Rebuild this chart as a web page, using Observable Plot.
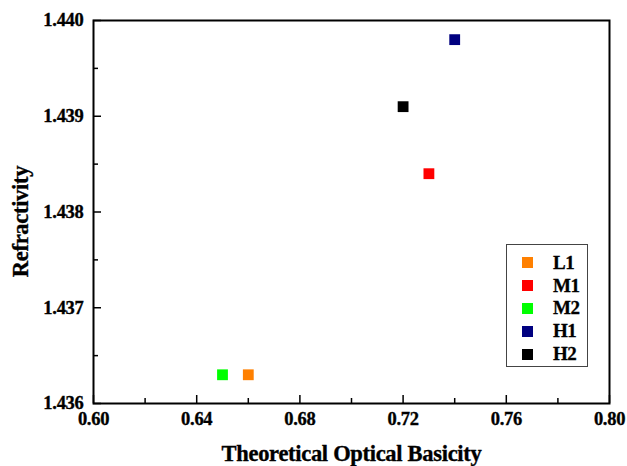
<!DOCTYPE html>
<html>
<head>
<meta charset="utf-8">
<script src="https://cdn.jsdelivr.net/npm/d3@7"></script>
<script src="https://cdn.jsdelivr.net/npm/@observablehq/plot@0.6"></script>
<style>
  body { margin: 0; background: #fff; }
  #wrap { position: relative; width: 627px; height: 466px; }
  #legend {
    position: absolute; left: 506px; top: 244px; width: 82px; height: 123px;
    border: 1px solid #444; box-sizing: border-box; background: #fff;
    font-family: "Liberation Serif", "Times New Roman", serif; font-weight: bold; font-size: 19px;
    padding-top: 6.5px; letter-spacing: -0.5px;
    -webkit-text-stroke: 0.3px #000;
  }
  .row { display: flex; align-items: center; height: 22.8px; }
  .sw { width: 11px; height: 11px; margin-left: 14.5px; margin-right: 20.5px; flex: none; }
</style>
</head>
<body>
<div id="wrap"></div>
<script>
const samples = ["L1", "M1", "M2", "H1", "H2"];
const basicity = [0.66, 0.73, 0.65, 0.74, 0.72];
const refractivity = [1.4363, 1.4384, 1.4363, 1.4398, 1.4391];
const colors = ["#FF8000", "#FF0000", "#00FF00", "#000080", "#000000"];
const xTicks = [0.60, 0.64, 0.68, 0.72, 0.76, 0.80];
const xMinor = [0.62, 0.66, 0.70, 0.74, 0.78];
const yTicks = [1.436, 1.437, 1.438, 1.439, 1.440];
const yMinor = [1.4365, 1.4375, 1.4385, 1.4395];
const xTitle = "Theoretical Optical Basicity";
const yTitle = "Refractivity";

const data = samples.map((s, i) => ({sample: s, x: basicity[i], y: refractivity[i]}));

const chart = Plot.plot({
  width: 627,
  height: 466,
  marginLeft: 93,
  marginRight: 18,
  marginTop: 20,
  marginBottom: 63,
  style: {fontFamily: "Liberation Serif, 'Times New Roman', serif", fontSize: "18px", fontWeight: "bold", color: "#000", background: "#fff"},
  x: {domain: [0.60, 0.80]},
  y: {domain: [1.436, 1.440]},
  color: {domain: samples, range: colors},
  marks: [
    Plot.axisX(xMinor, {tickSize: -5, tickFormat: () => "", label: null, strokeWidth: 1.5}),
    Plot.axisY(yMinor, {tickSize: -5, tickFormat: () => "", label: null, strokeWidth: 1.5}),
    Plot.axisX(xTicks, {tickSize: -8, tickPadding: 16, tickFormat: d3.format(".2f"), label: null, strokeWidth: 1.5, fontSize: 18.5}),
    Plot.axisY(yTicks, {tickSize: -8, tickPadding: 18, tickFormat: d3.format(".3f"), label: null, strokeWidth: 1.5, fontSize: 18.5}),
    Plot.frame({stroke: "#000", strokeWidth: 2}),
    Plot.dot(data, {x: "x", y: "y", fill: "sample", symbol: "square", r: 6.1}),
    Plot.text([xTitle], {frameAnchor: "bottom", textAnchor: "middle", lineAnchor: "middle", dy: 50, fontSize: 22.5, text: d => d}),
    Plot.text([yTitle], {frameAnchor: "left", textAnchor: "middle", lineAnchor: "middle", dx: -73, dy: 9.5, rotate: -90, fontSize: 22.5, text: d => d})
  ]
});

d3.select(chart).selectAll("text")
  .style("font-weight", "bold")
  .style("font-family", "'Liberation Serif', 'Times New Roman', serif")
  .style("letter-spacing", "-0.3px")
  .style("stroke", "#000")
  .style("stroke-width", "0.35px");

const wrap = document.getElementById("wrap");
wrap.appendChild(chart);

const legend = document.createElement("div");
legend.id = "legend";
samples.forEach((s, i) => {
  const row = document.createElement("div");
  row.className = "row";
  const sw = document.createElement("div");
  sw.className = "sw";
  sw.style.background = colors[i];
  const lab = document.createElement("span");
  lab.textContent = s;
  row.appendChild(sw);
  row.appendChild(lab);
  legend.appendChild(row);
});
wrap.appendChild(legend);
</script>
</body>
</html>
